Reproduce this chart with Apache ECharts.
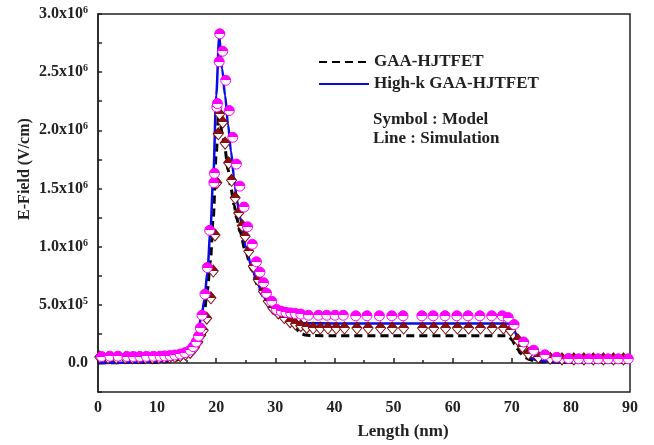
<!DOCTYPE html>
<html>
<head>
<meta charset="utf-8">
<script src="https://cdn.jsdelivr.net/npm/echarts@6/dist/echarts.min.js"></script>
<style>
  html, body { margin: 0; padding: 0; background: #fff; }
  #chart { width: 654px; height: 445px; }
</style>
</head>
<body>
<div id="chart"></div>
<script>
// Electric field along the device length (nm), V/cm

// Simulation: GAA-HJTFET
const gaaSimX = [0, 10, 13, 14, 15, 16, 17, 17.5, 18, 18.5, 19, 19.5, 20, 20.4, 21, 21.5, 22, 22.5, 23, 23.5,
  24, 25, 26, 27, 28, 29, 30, 31, 32, 33, 33.5, 34, 34.5, 35, 36, 40, 50, 60, 69, 69.5,
  70, 70.5, 71, 71.5, 72, 73, 74, 75, 80, 90];
const gaaSimE = [0, 0.005e6, 0.02e6, 0.04e6, 0.07e6, 0.13e6, 0.24e6, 0.33e6, 0.45e6, 0.62e6, 0.87e6, 1.25e6, 1.80e6, 2.15e6, 1.98e6, 1.83e6, 1.66e6, 1.50e6, 1.36e6, 1.24e6,
  1.13e6, 0.95e6, 0.80e6, 0.67e6, 0.57e6, 0.48e6, 0.42e6, 0.38e6, 0.35e6, 0.325e6, 0.30e6, 0.27e6, 0.25e6, 0.24e6, 0.235e6, 0.233e6, 0.233e6, 0.233e6, 0.233e6, 0.225e6,
  0.20e6, 0.16e6, 0.12e6, 0.08e6, 0.055e6, 0.03e6, 0.015e6, 0.01e6, 0.005e6, 0.005e6];

// Simulation: High-k GAA-HJTFET
const hkSimX = [0, 5, 10, 12, 13, 14, 15, 16, 16.5, 17, 17.5, 18, 18.5, 19, 19.5, 20, 20.5, 21, 21.5, 22,
  22.5, 23, 23.5, 24, 25, 26, 27, 28, 29, 30, 31, 32, 33, 34, 35, 40, 50, 60, 69, 69.5,
  70, 70.5, 71, 71.5, 72, 72.5, 73, 74, 75, 77, 80, 90];
const hkSimE = [0, 0.002e6, 0.01e6, 0.02e6, 0.035e6, 0.06e6, 0.10e6, 0.17e6, 0.22e6, 0.30e6, 0.40e6, 0.54e6, 0.78e6, 1.12e6, 1.60e6, 2.30e6, 2.80e6, 2.53e6, 2.30e6, 2.05e6,
  1.82e6, 1.60e6, 1.40e6, 1.25e6, 1.00e6, 0.82e6, 0.68e6, 0.57e6, 0.49e6, 0.43e6, 0.39e6, 0.365e6, 0.35e6, 0.345e6, 0.342e6, 0.34e6, 0.34e6, 0.34e6, 0.34e6, 0.335e6,
  0.31e6, 0.27e6, 0.21e6, 0.15e6, 0.11e6, 0.075e6, 0.05e6, 0.025e6, 0.015e6, 0.01e6, 0.005e6, 0.005e6];

// Model: GAA-HJTFET
const gaaModX = [0.3, 1.7, 3.1, 4.6, 5.8, 6.9, 8.0, 9.2, 10.3, 11.2, 12.1, 13.0, 13.9, 14.8, 15.6, 16.3, 16.9, 17.4, 17.8, 18.4,
  19.1, 19.5, 19.8, 20.1, 20.35, 20.6, 21.1, 21.5, 22.1, 22.6, 23.2, 23.8, 24.4, 24.9, 25.5, 26.3, 27.1, 28.0, 28.8, 29.6,
  30.5, 31.5, 32.5, 33.4, 34.3, 35.3, 36.4, 37.6, 38.9, 40.3, 41.7, 43.8, 45.7, 47.8, 49.8, 51.7, 54.9, 56.8, 58.8, 60.8,
  62.7, 64.7, 66.7, 68.6, 69.8, 71.0, 71.8, 72.8, 74.5, 76.5, 78.5, 80.5, 82.2, 83.8, 85.5, 87.2, 88.9];
const gaaModE = [0.05e6, 0.045e6, 0.045e6, 0.045e6, 0.045e6, 0.045e6, 0.045e6, 0.045e6, 0.046e6, 0.048e6, 0.05e6, 0.055e6, 0.062e6, 0.075e6, 0.09e6, 0.13e6, 0.18e6, 0.24e6, 0.28e6, 0.385e6,
  0.56e6, 0.79e6, 1.10e6, 1.55e6, 1.97e6, 2.14e6, 2.07e6, 1.89e6, 1.72e6, 1.57e6, 1.42e6, 1.29e6, 1.18e6, 1.09e6, 0.96e6, 0.83e6, 0.715e6, 0.615e6, 0.53e6, 0.47e6,
  0.43e6, 0.39e6, 0.355e6, 0.335e6, 0.32e6, 0.305e6, 0.30e6, 0.30e6, 0.30e6, 0.30e6, 0.30e6, 0.30e6, 0.30e6, 0.30e6, 0.30e6, 0.30e6, 0.30e6, 0.30e6, 0.30e6, 0.30e6,
  0.30e6, 0.30e6, 0.30e6, 0.30e6, 0.28e6, 0.20e6, 0.14e6, 0.08e6, 0.05e6, 0.04e6, 0.035e6, 0.035e6, 0.035e6, 0.035e6, 0.035e6, 0.035e6, 0.035e6];

// Model: High-k GAA-HJTFET
const hkModX = [0.6, 2.0, 3.4, 4.9, 6.0, 7.1, 8.2, 9.4, 10.5, 11.3, 12.2, 13.0, 13.9, 14.7, 15.6, 16.1, 16.6, 17.0, 17.3, 17.6,
  18.1, 18.5, 18.9, 19.6, 19.7, 20.1, 20.2, 20.5, 20.6, 21.1, 21.6, 22.2, 22.8, 23.4, 24.0, 24.7, 25.3, 26.1, 26.8, 27.4,
  28.0, 28.5, 29.4, 30.2, 31.0, 31.8, 32.6, 33.4, 34.3, 35.6, 37.3, 38.7, 40.1, 41.5, 43.6, 45.5, 47.6, 49.7, 51.6, 54.8,
  56.7, 58.7, 60.7, 62.6, 64.6, 66.6, 68.4, 69.4, 70.4, 72.0, 73.7, 75.6, 77.6, 79.6, 81.3, 83.0, 84.6, 86.3, 88.0, 89.7];
const hkModE = [0.055e6, 0.058e6, 0.058e6, 0.055e6, 0.055e6, 0.055e6, 0.056e6, 0.057e6, 0.058e6, 0.06e6, 0.063e6, 0.068e6, 0.076e6, 0.088e6, 0.11e6, 0.14e6, 0.18e6, 0.23e6, 0.30e6, 0.41e6,
  0.59e6, 0.82e6, 1.14e6, 1.55e6, 1.63e6, 2.20e6, 2.23e6, 2.59e6, 2.83e6, 2.68e6, 2.43e6, 2.17e6, 1.94e6, 1.71e6, 1.52e6, 1.34e6, 1.17e6, 1.02e6, 0.87e6, 0.78e6,
  0.69e6, 0.60e6, 0.53e6, 0.46e6, 0.445e6, 0.435e6, 0.43e6, 0.425e6, 0.42e6, 0.41e6, 0.41e6, 0.41e6, 0.41e6, 0.41e6, 0.405e6, 0.405e6, 0.405e6, 0.405e6, 0.405e6, 0.405e6,
  0.405e6, 0.405e6, 0.405e6, 0.405e6, 0.405e6, 0.405e6, 0.405e6, 0.39e6, 0.33e6, 0.18e6, 0.11e6, 0.07e6, 0.048e6, 0.038e6, 0.035e6, 0.035e6, 0.035e6, 0.035e6, 0.035e6, 0.035e6];

const seriesNames = ['GAA-HJTFET', 'High-k GAA-HJTFET'];
const noteLines = ['Symbol : Model', 'Line : Simulation'];
const xAxisTitle = 'Length (nm)';
const yAxisTitle = 'E-Field (V/cm)';

const FONT = '"Liberation Serif", "Times New Roman", serif';
const zip = (xs, ys) => xs.map((x, i) => [x, ys[i]]);

function halfFill(top) {
  return new echarts.graphic.LinearGradient(0, 0, 0, 1, [
    { offset: 0, color: top }, { offset: 0.5, color: top },
    { offset: 0.5, color: '#ffffff' }, { offset: 1, color: '#ffffff' }
  ]);
}

// y tick label: 0.0, 5.0x10^5, 1.0x10^6 ...
function yLabel(v) {
  if (Math.abs(v) < 1) return '{m|0.0}';
  if (v < 0) return '';
  const k = v / 5e5;
  if (Math.abs(k - Math.round(k)) > 1e-6) return '';
  const e = Math.floor(Math.log10(v) + 1e-9);
  const m = (v / Math.pow(10, e)).toFixed(1);
  return '{m|' + m + 'x10}{s|' + e + '}';
}

const chart = echarts.init(document.getElementById('chart'), null, { renderer: 'canvas' });

chart.setOption({
  animation: false,
  backgroundColor: '#ffffff',
  grid: { left: 98, right: 24, top: 14, bottom: 51, show: true, borderColor: '#222', borderWidth: 1.5, backgroundColor: 'transparent' },
  legend: {
    data: seriesNames,
    orient: 'vertical',
    left: 318, top: 53, padding: 0,
    itemWidth: 50, itemHeight: 14, itemGap: 4,
    itemStyle: { opacity: 0 },
    textStyle: { fontFamily: FONT, fontWeight: 'bold', fontSize: 17, color: '#222', lineHeight: 18 }
  },
  xAxis: {
    type: 'value', min: 0, max: 90, interval: 10,
    name: xAxisTitle, nameLocation: 'middle', nameGap: 31,
    nameTextStyle: { fontFamily: FONT, fontWeight: 'bold', fontSize: 17, color: '#222', padding: [0, 0, 0, 78] },
    axisLine: { lineStyle: { color: '#222', width: 1.5 } },
    axisTick: { inside: true, length: 5, lineStyle: { color: '#222', width: 1.5 } },
    minorTick: { show: true, splitNumber: 2, length: 3, lineStyle: { color: '#222', width: 1.5 } },
    splitLine: { show: false },
    axisLabel: { margin: 8, fontFamily: FONT, fontWeight: 'bold', fontSize: 16, color: '#222' }
  },
  yAxis: {
    type: 'value', min: -0.25e6, max: 3.0e6, interval: 0.25e6,
    name: yAxisTitle, nameLocation: 'middle', nameGap: 65, nameRotate: 90, nameMoveOverlap: false,
    nameTextStyle: { fontFamily: FONT, fontWeight: 'bold', fontSize: 16, color: '#222', padding: [0, 0, 0, 68] },
    axisLine: { lineStyle: { color: '#222', width: 1.5 } },
    axisTick: { inside: true, length: 4, lineStyle: { color: '#222', width: 1.5 } },
    splitLine: { show: false },
    axisLabel: {
      margin: 10, formatter: yLabel,
      rich: {
        m: { fontFamily: FONT, fontWeight: 'bold', fontSize: 16, color: '#222', lineHeight: 17 },
        s: { fontFamily: FONT, fontWeight: 'bold', fontSize: 10, color: '#222', lineHeight: 10, verticalAlign: 'top' }
      }
    }
  },
  graphic: noteLines.map((t, i) => ({
    type: 'text', left: 373, top: 111 + i * 19, silent: true,
    style: { text: t, font: 'bold 17px ' + FONT, fill: '#222' }
  })),
  series: [
    {
      name: seriesNames[0], type: 'line', data: zip(gaaSimX, gaaSimE),
      symbol: 'none', smooth: 0.3, smoothMonotone: 'x', z: 2,
      lineStyle: { color: '#000', width: 3, type: [8, 5] }, itemStyle: { color: '#000' }
    },
    {
      name: seriesNames[1], type: 'line', data: zip(hkSimX, hkSimE),
      symbol: 'none', smooth: 0.3, smoothMonotone: 'x', z: 2,
      lineStyle: { color: '#0a0ae6', width: 2.5 }, itemStyle: { color: '#0a0ae6' }
    },
    {
      name: seriesNames[0] + ' (Model)', type: 'scatter', data: zip(gaaModX, gaaModE),
      symbol: 'diamond', symbolSize: [10, 12], z: 3,
      itemStyle: { color: halfFill('#8b1010'), borderColor: '#7a0a0a', borderWidth: 1, opacity: 1 }
    },
    {
      name: seriesNames[1] + ' (Model)', type: 'scatter', data: zip(hkModX, hkModE),
      symbol: 'circle', symbolSize: 10, z: 4,
      itemStyle: { color: halfFill('#ff00ff'), borderColor: '#ff00ff', borderWidth: 1, opacity: 1 }
    }
  ]
});
</script>
</body>
</html>
